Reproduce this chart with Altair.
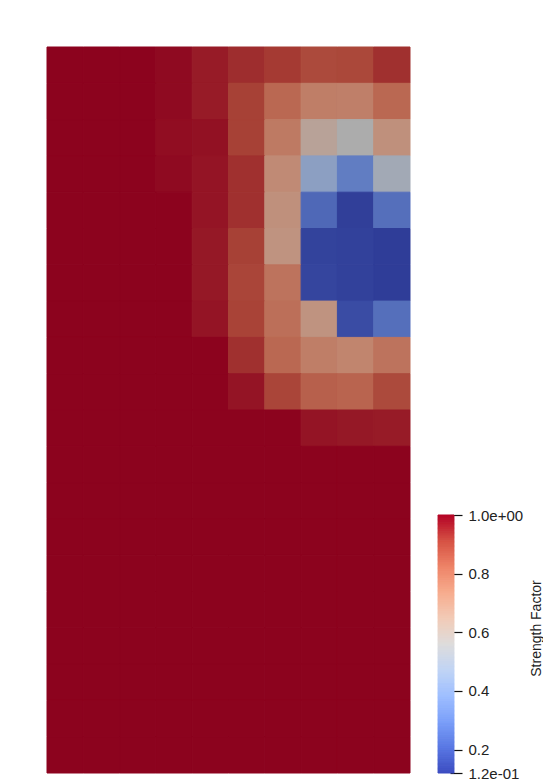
import altair as alt
import numpy as np
import pandas as pd

# ---- data: strength factor per cell (rows top->bottom, 10 columns) ----
row_00 = [1.0, 1.0, 1.0, 0.99, 0.965, 0.94, 0.92, 0.89, 0.895, 0.935]
row_01 = [1.0, 1.0, 1.0, 0.99, 0.965, 0.91, 0.82, 0.76, 0.755, 0.82]
row_02 = [1.0, 1.0, 1.0, 0.985, 0.98, 0.91, 0.77, 0.62, 0.56, 0.70]
row_03 = [1.0, 1.0, 1.0, 0.99, 0.975, 0.935, 0.72, 0.44, 0.30, 0.52]
row_04 = [1.0, 1.0, 1.0, 1.0, 0.975, 0.935, 0.70, 0.24, 0.13, 0.26]
row_05 = [1.0, 1.0, 1.0, 1.0, 0.97, 0.91, 0.69, 0.14, 0.135, 0.125]
row_06 = [1.0, 1.0, 1.0, 1.0, 0.97, 0.90, 0.79, 0.145, 0.135, 0.125]
row_07 = [1.0, 1.0, 1.0, 1.0, 0.975, 0.905, 0.80, 0.69, 0.165, 0.26]
row_08 = [1.0, 1.0, 1.0, 1.0, 1.0, 0.935, 0.82, 0.76, 0.74, 0.79]
row_09 = [1.0, 1.0, 1.0, 1.0, 1.0, 0.975, 0.90, 0.84, 0.83, 0.89]
row_10 = [1.0, 1.0, 1.0, 1.0, 1.0, 1.0, 1.0, 0.975, 0.97, 0.965]
row_11 = [1.0] * 10
row_12 = [1.0] * 10
row_13 = [1.0] * 10
row_14 = [1.0] * 10
row_15 = [1.0] * 10
row_16 = [1.0] * 10
row_17 = [1.0] * 10
row_18 = [1.0] * 10
row_19 = [1.0] * 10

grid_rows = [row_00, row_01, row_02, row_03, row_04, row_05, row_06, row_07,
             row_08, row_09, row_10, row_11, row_12, row_13, row_14, row_15,
             row_16, row_17, row_18, row_19]

v_min, v_max = 0.12, 1.0
tick_values = [0.12, 0.2, 0.4, 0.6, 0.8, 1.0]
legend_title = "Strength Factor"

# ---- colour map (cool to warm) ----
cw_stops = [(59, 76, 192), (89, 119, 227), (123, 159, 249), (158, 190, 255),
            (192, 212, 245), (221, 220, 220), (242, 203, 183), (247, 172, 142),
            (238, 132, 104), (214, 82, 68), (180, 4, 38)]
shade = 0.78  # lit surface appears darker than the bar


def to_hex(c, f=1.0):
    return "#%02x%02x%02x" % tuple(int(round(v * f)) for v in c)


stop_domain = list(np.linspace(v_min, v_max, len(cw_stops)))
bar_range = [to_hex(c) for c in cw_stops]
cell_range = [to_hex(c, shade) for c in cw_stops]

cell_scale = alt.Scale(domain=stop_domain, range=cell_range, interpolate="rgb")
bar_scale = alt.Scale(domain=stop_domain, range=bar_range, interpolate="rgb")

records = []
for r, vals in enumerate(grid_rows):
    for c, v in enumerate(vals):
        records.append({"row": r, "col": c, "value": v})
df = pd.DataFrame(records)

heat = alt.Chart(df).mark_rect(strokeWidth=1).encode(
    x=alt.X("col:O", axis=None, scale=alt.Scale(paddingInner=0, paddingOuter=0)),
    y=alt.Y("row:O", axis=None, scale=alt.Scale(paddingInner=0, paddingOuter=0)),
    color=alt.Color("value:Q", legend=None, scale=cell_scale),
    stroke=alt.Stroke("value:Q", legend=None, scale=cell_scale),
).properties(width=363, height=726)

# ---- colour bar ----
edges = np.linspace(v_min, v_max, 201)
bar_df = pd.DataFrame({"lo": edges[:-1], "hi": edges[1:],
                       "mid": (edges[:-1] + edges[1:]) / 2})

label_expr = ("datum.value >= 0.999 ? '1.0e+00' : (datum.value <= 0.121 ? '1.2e-01' : "
              "format(datum.value, '.1f'))")

bar = alt.Chart(bar_df).mark_rect(strokeWidth=1).encode(
    y=alt.Y("lo:Q",
            scale=alt.Scale(domain=[v_min, v_max], range=[726, 468], nice=False, zero=False),
            axis=alt.Axis(orient="right", values=tick_values, labelExpr=label_expr,
                          domain=False, grid=False, tickSize=12, offset=-4,
                          tickColor="#111111", tickWidth=1.2, labelPadding=6,
                          labelFont="Liberation Sans", labelFontSize=15,
                          labelColor="#222222", labelBaseline="middle",
                          title=legend_title, titleFont="Liberation Sans",
                          titleFontSize=14, titleFontWeight="normal",
                          titleColor="#222222", titleAngle=270,
                          titleAlign="center", titleBaseline="middle",
                          titleX=86, titleY=581)),
    y2="hi:Q",
    color=alt.Color("mid:Q", legend=None, scale=bar_scale),
    stroke=alt.Stroke("mid:Q", legend=None, scale=bar_scale),
).properties(width=16, height=726)

chart = alt.hconcat(heat, bar, spacing=26).resolve_scale(
    color="independent", stroke="independent"
).properties(
    padding={"left": 38, "top": 38, "right": 0, "bottom": 0},
    background="white",
).configure_view(strokeWidth=0, stroke="transparent")

chart.save("out.html", embed_options={"renderer": "svg", "actions": False})
